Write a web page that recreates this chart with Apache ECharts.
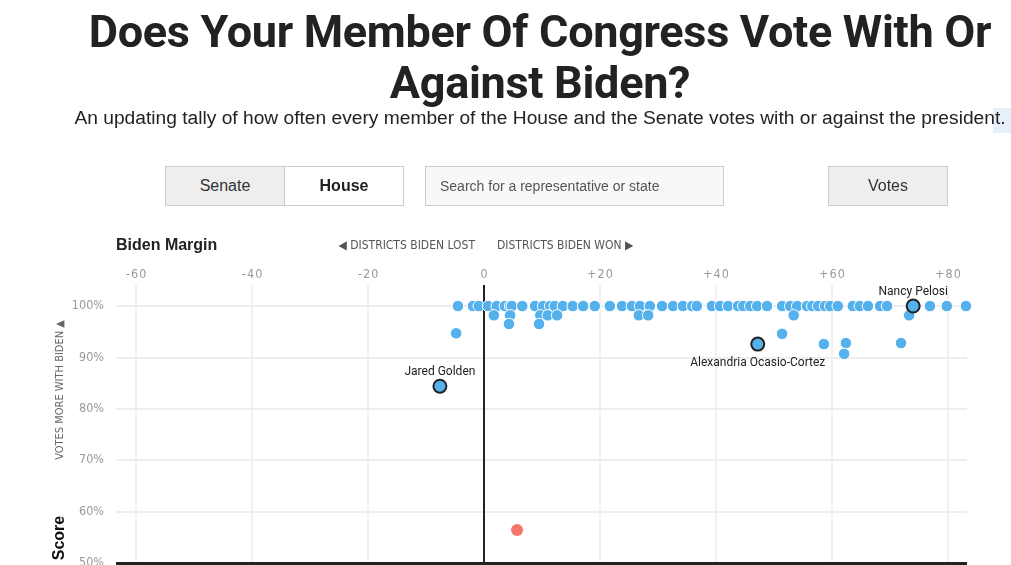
<!DOCTYPE html>
<html><head><meta charset="utf-8">
<script src="https://cdn.jsdelivr.net/npm/echarts@6/dist/echarts.min.js"></script>
<style>
html,body{margin:0;padding:0;width:1011px;height:565px;overflow:hidden;background:#fff;font-family:Roboto,"Liberation Sans",Arial,sans-serif;color:#222;}
#chart{position:absolute;left:0;top:0;width:1011px;height:565px;}
.abs{position:absolute;}
#title{left:40px;width:1000px;top:6px;text-align:center;font-weight:700;font-size:45px;line-height:51px;color:#222;font-family:Roboto,"Liberation Sans",sans-serif;letter-spacing:-0.3px;}
#sub{left:40px;width:1000px;top:106px;text-align:center;font-size:19.2px;line-height:24px;color:#222;white-space:nowrap;font-family:"Liberation Sans",Arial,sans-serif;}
#hl{left:993px;top:108px;width:18px;height:25px;background:#e6f0fb;}
.btn{box-sizing:border-box;height:40px;border:1px solid #ccc;display:flex;align-items:center;justify-content:center;font-size:16px;color:#333;font-family:"Liberation Sans",Arial,sans-serif;}
</style></head>
<body>
<div id="chart"></div>
<div id="hl" class="abs"></div>
<div id="title" class="abs">Does Your Member Of Congress Vote With Or<br>Against Biden?</div>
<div id="sub" class="abs">An updating tally of how often every member of the House and the Senate votes with or against the president.</div>
<div class="abs btn" style="left:165px;top:166px;width:120px;background:#eee;">Senate</div>
<div class="abs btn" style="left:284px;top:166px;width:120px;background:#fff;font-weight:700;color:#222;">House</div>
<div class="abs btn" style="left:425px;top:166px;width:299px;background:#f8f8f8;justify-content:flex-start;padding-left:14px;font-size:14px;color:#555;">Search for a representative or state</div>
<div class="abs btn" style="left:828px;top:166px;width:120px;background:#eee;">Votes</div>
<script>
// ---- data ----
const xTickValues = [-60, -40, -20, 0, 20, 40, 60, 80];
const yTickValues = [50, 60, 70, 80, 90, 100];

// members at 100% score (Biden margin)
const fullScoreMargins = [-4.5, -1.9, -0.9, 0.7, 2.2, 3.6, 4.5, 4.8, 6.6, 8.8, 10.2, 11.4, 12.2, 13.6, 15.3, 17.1, 19.1,
  21.7, 23.8, 25.5, 26.9, 28.6, 30.7, 32.6, 34.3, 35.9, 36.7, 39.3, 40.7, 42.1, 43.8, 44.7, 45.9, 47.1, 48.8,
  51.4, 52.8, 54.0, 55.7, 56.6, 57.6, 58.8, 59.7, 61.0, 63.6, 64.8, 66.2, 68.3, 69.5, 76.9, 79.8, 83.1];
// other Democrats
const otherMargins = [1.7, 4.5, 9.7, 11.0, 12.6, 26.7, 28.3, 4.3, 9.5, -4.8, 53.4, 51.4, 58.6, 62.4, 62.1, 71.9, 73.3];
const otherScores  = [98.2, 98.2, 98.2, 98.2, 98.2, 98.2, 98.2, 96.5, 96.5, 94.7, 98.2, 94.6, 92.6, 92.8, 90.7, 92.8, 98.2];
// highlighted members
const namedMembers = ['Jared Golden', 'Alexandria Ocasio-Cortez', 'Nancy Pelosi'];
const namedMargins = [-7.6, 47.2, 74.0];
const namedScores  = [84.4, 92.6, 100];
// Republican
const redMargins = [5.7];
const redScores  = [56.4];

// ---- chart ----
const BLUE = '#55b1ec', RED = '#f4786a';
const condensed = '"Liberation Sans Narrow","DejaVu Sans Condensed","Roboto",sans-serif';
const blueData = fullScoreMargins.map(m => [m, 100]).concat(otherMargins.map((m, i) => [m, otherScores[i]]));
const labelPos = ['top', 'bottom', 'top'];
const labelDist = [1, 5, 1];
const namedData = namedMembers.map((n, i) => ({name: n, value: [namedMargins[i], namedScores[i]], label: {position: labelPos[i], distance: labelDist[i]}}));
const redData = redMargins.map((m, i) => [m, redScores[i]]);

function fmtX(v) {
  let s = v > 0 ? '+' + v : (v < 0 ? '-' + Math.abs(v) : '0');
  return s.split('').join('\u200A');
}

const chart = echarts.init(document.getElementById('chart'));
chart.setOption({
  animation: false,
  grid: {left: 116, right: 44, top: 285, bottom: 2, containLabel: false, outerBoundsMode: 'none'},
  xAxis: {
    type: 'value', position: 'top', min: -63.45, max: 83.28,
    axisLine: {show: false},
    axisTick: {show: false, customValues: xTickValues},
    axisLabel: {customValues: xTickValues, formatter: fmtX, color: '#999', fontSize: 12.5, margin: 4, fontFamily: condensed},
    splitLine: {show: true, lineStyle: {color: '#ececec', width: 1.5}}
  },
  yAxis: {
    type: 'value', min: 50, max: 104.1,
    axisLine: {show: false},
    axisTick: {show: false, customValues: yTickValues},
    axisLabel: {customValues: yTickValues, formatter: v => v + '%', color: '#999', fontSize: 12.5, margin: 12, fontFamily: condensed},
    splitLine: {show: true, lineStyle: {color: '#e8e8e8', width: 1.5}}
  },
  series: [
    {
      type: 'scatter', data: blueData, symbolSize: 11.5, z: 3,
      itemStyle: {color: BLUE, borderColor: '#fff', borderWidth: 1, opacity: 1},
      markLine: {
        silent: true, symbol: 'none', label: {show: false}, z: 2,
        data: [
          {xAxis: 0, lineStyle: {color: '#222', width: 2, type: 'solid'}},
          {yAxis: 50, lineStyle: {color: '#222', width: 3, type: 'solid'}}
        ]
      }
    },
    {
      type: 'scatter', data: namedData, symbolSize: 13, z: 4,
      itemStyle: {color: BLUE, borderColor: '#222', borderWidth: 2, opacity: 1},
      label: {show: true, formatter: '{b}', color: '#222', fontSize: 12, fontFamily: 'Roboto, sans-serif'}
    },
    {
      type: 'scatter', data: redData, symbolSize: 12, z: 3,
      itemStyle: {color: RED, opacity: 1}
    }
  ],
  graphic: [
    {type: 'text', left: 116, top: 238, style: {text: 'Biden Margin', font: 'bold 16px "Liberation Sans", Arial, sans-serif', fill: '#222'}},
    {type: 'text', x: 475, y: 246, style: {text: '\u25C0 DISTRICTS BIDEN LOST', font: '12px ' + condensed, fill: '#555', align: 'right', verticalAlign: 'middle'}},
    {type: 'text', x: 497, y: 246, style: {text: 'DISTRICTS BIDEN WON \u25B6', font: '12px ' + condensed, fill: '#555', align: 'left', verticalAlign: 'middle'}},
    {type: 'text', x: 60, y: 390, rotation: Math.PI / 2, style: {text: 'VOTES MORE WITH BIDEN \u25B2', font: '11px ' + condensed, fill: '#666', align: 'center', verticalAlign: 'middle'}},
    {type: 'text', x: 60, y: 538, rotation: Math.PI / 2, style: {text: 'Score', font: 'bold 16px "Liberation Sans", Arial, sans-serif', fill: '#111', align: 'center', verticalAlign: 'middle'}}
  ]
});
</script>
</body></html>
